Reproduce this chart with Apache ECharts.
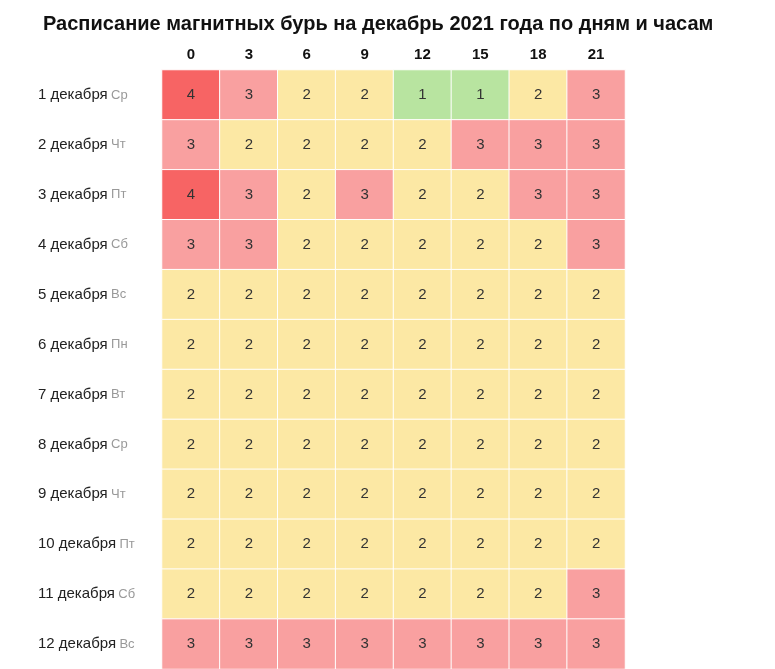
<!DOCTYPE html>
<html><head><meta charset="utf-8">
<script src="https://cdn.jsdelivr.net/npm/echarts@6/dist/echarts.min.js"></script>
<style>html,body{margin:0;background:#fff}#c{width:775px;height:669px}</style>
</head><body><div id="c"></div>
<script>
const hours = ['0', '3', '6', '9', '12', '15', '18', '21'];
const days = ['1 декабря', '2 декабря', '3 декабря', '4 декабря', '5 декабря', '6 декабря',
  '7 декабря', '8 декабря', '9 декабря', '10 декабря', '11 декабря', '12 декабря'];
const weekdays = ['Ср', 'Чт', 'Пт', 'Сб', 'Вс', 'Пн', 'Вт', 'Ср', 'Чт', 'Пт', 'Сб', 'Вс'];
const kp = [
  [4, 3, 2, 2, 1, 1, 2, 3],
  [3, 2, 2, 2, 2, 3, 3, 3],
  [4, 3, 2, 3, 2, 2, 3, 3],
  [3, 3, 2, 2, 2, 2, 2, 3],
  [2, 2, 2, 2, 2, 2, 2, 2],
  [2, 2, 2, 2, 2, 2, 2, 2],
  [2, 2, 2, 2, 2, 2, 2, 2],
  [2, 2, 2, 2, 2, 2, 2, 2],
  [2, 2, 2, 2, 2, 2, 2, 2],
  [2, 2, 2, 2, 2, 2, 2, 2],
  [2, 2, 2, 2, 2, 2, 2, 3],
  [3, 3, 3, 3, 3, 3, 3, 3]
];
const cellColors = {1: '#b8e4a0', 2: '#fce8a4', 3: '#f9a0a0', 4: '#f76464'};

let data = [];
kp.forEach((row, r) => row.forEach((v, c) => data.push({
  value: [c, r, v],
  itemStyle: { color: cellColors[v] }
})));

const chart = echarts.init(document.getElementById('c'));
chart.setOption({
  animation: false,
  title: {
    text: 'Расписание магнитных бурь на декабрь 2021 года по дням и часам',
    left: 38, top: 9,
    textStyle: { fontFamily: 'Arial, Liberation Sans', fontSize: 20, fontWeight: 'bold', color: '#111' }
  },
  grid: { left: 162, right: 150, top: 70, bottom: 0 },
  xAxis: {
    type: 'category', position: 'top', data: hours,
    axisLine: { show: false }, axisTick: { show: false }, splitArea: { show: false },
    axisLabel: { fontFamily: 'Arial, Liberation Sans', fontSize: 15, fontWeight: 'bold', color: '#111', margin: 8 }
  },
  yAxis: {
    type: 'category', inverse: true, data: days,
    axisLine: { show: false }, axisTick: { show: false },
    axisLabel: {
      margin: 124, align: 'left',
      formatter: (v, i) => '{d|' + v + '} {w|' + weekdays[i] + '}',
      rich: {
        d: { fontFamily: 'Arial, Liberation Sans', fontSize: 15, color: '#222' },
        w: { fontFamily: 'Arial, Liberation Sans', fontSize: 13, color: '#999' }
      }
    }
  },
  series: [{
    type: 'heatmap',
    data: data,
    itemStyle: { borderColor: '#fff', borderWidth: 1 },
    label: {
      show: true, formatter: p => p.value[2],
      fontFamily: 'Arial, Liberation Sans', fontSize: 15,
      color: '#333'
    }
  }]
});
</script></body></html>
